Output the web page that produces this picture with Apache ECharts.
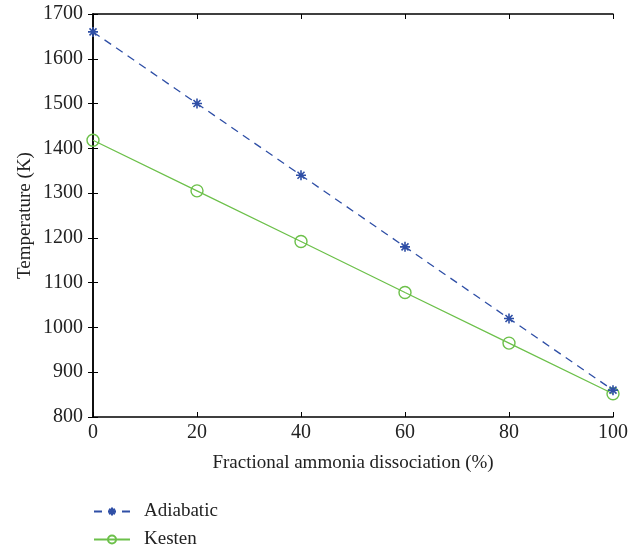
<!DOCTYPE html>
<html>
<head>
<meta charset="utf-8">
<script src="https://cdn.jsdelivr.net/npm/echarts@6/dist/echarts.min.js"></script>
<style>
  html, body { margin: 0; padding: 0; background: #fff; }
  #myChart { width: 639px; height: 550px; }
</style>
</head>
<body>
<div id="myChart"></div>
<script>
    // data
    var dissociation = [0, 20, 40, 60, 80, 100];
    var adiabatic = [1660, 1500, 1340, 1180, 1020, 860];
    var kesten = [1418, 1305, 1192, 1078, 965, 852];
    var seriesNames = ['Adiabatic', 'Kesten'];

    var FONT = 'Liberation Serif';
    var BLUE = '#2f4fa6';
    var GREEN = '#6cc04a';
    // 8 armed asterisk like the matlab marker
    var STAR = 'path://M0,-10L0,10M-10,0L10,0M-7,-7L7,7M-7,7L7,-7';

    function toPairs(xs, ys) {
        var out = [];
        for (var i = 0; i < xs.length; i++) {
            out.push([xs[i], ys[i]]);
        }
        return out;
    }

    function plain(v) { return String(v); }

    var axisLine = { show: true, lineStyle: { color: '#000', width: 1.5 } };
    var axisTick = { show: true, inside: true, length: 5, lineStyle: { color: '#000', width: 1 } };
    var legendText = { fontFamily: FONT, fontSize: 19, color: '#222', padding: [0, 0, 0, 9] };

    var option = {
        animation: false,
        backgroundColor: '#fff',
        grid: { left: 93, right: 26, top: 14, bottom: 133, containLabel: false, outerBoundsMode: 'none' },
        legend: [{
            orient: 'vertical', left: 88, top: 497,
            itemWidth: 36, itemHeight: 10,
            textStyle: legendText,
            data: [seriesNames[0]]
        }, {
            orient: 'vertical', left: 88, top: 525,
            itemWidth: 36, itemHeight: 10,
            textStyle: legendText,
            data: [seriesNames[1]]
        }],
        xAxis: [{
            type: 'value', min: 0, max: 100, interval: 20,
            name: 'Fractional ammonia dissociation (%)',
            nameLocation: 'middle', nameGap: 37, nameMoveOverlap: false,
            nameTextStyle: { fontFamily: FONT, fontSize: 19, color: '#222' },
            axisLine: axisLine, axisTick: axisTick,
            axisLabel: { fontFamily: FONT, fontSize: 20, color: '#222', margin: 6, formatter: plain },
            splitLine: { show: false }
        }, {
            type: 'value', position: 'top', min: 0, max: 100, interval: 20,
            axisLine: axisLine, axisTick: axisTick,
            axisLabel: { show: false }, splitLine: { show: false }
        }],
        yAxis: [{
            type: 'value', min: 800, max: 1700, interval: 100,
            name: 'Temperature (K)',
            nameLocation: 'middle', nameGap: 58, nameMoveOverlap: false,
            nameTextStyle: { fontFamily: FONT, fontSize: 19, color: '#222' },
            axisLine: axisLine, axisTick: axisTick,
            axisLabel: { fontFamily: FONT, fontSize: 20, color: '#222', margin: 10, formatter: plain },
            splitLine: { show: false }
        }, {
            type: 'value', position: 'right', min: 800, max: 1700, interval: 100,
            axisLine: axisLine, axisTick: axisTick,
            axisLabel: { show: false }, splitLine: { show: false }
        }],
        series: [{
            name: seriesNames[0],
            type: 'line',
            data: toPairs(dissociation, adiabatic),
            symbol: STAR,
            symbolSize: 10,
            color: BLUE,
            lineStyle: { color: BLUE, width: 1.3, type: [8, 6] },
            itemStyle: { color: BLUE, borderColor: BLUE, borderWidth: 1.6 },
            z: 3
        }, {
            name: seriesNames[1],
            type: 'line',
            data: toPairs(dissociation, kesten),
            symbol: 'circle',
            symbolSize: 12,
            color: GREEN,
            lineStyle: { color: GREEN, width: 1.3 },
            itemStyle: { color: 'rgba(255,255,255,0)', borderColor: GREEN, borderWidth: 1.4 },
            z: 2
        }]
    };

    var myChart = echarts.init(document.getElementById('myChart'));
    myChart.setOption(option);
</script>
</body>
</html>
